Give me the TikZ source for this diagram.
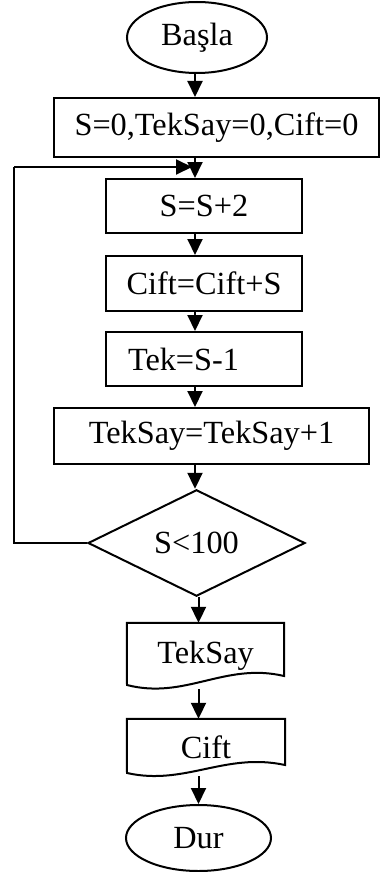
\documentclass[tikz,border=0pt]{standalone}
\usepackage{fontspec}
\setmainfont{Liberation Serif}
\usetikzlibrary{shapes.geometric,arrows.meta,calc}
\tikzset{
  base/.style={draw, line width=2pt, inner sep=0pt, font=\fontsize{32.3}{38}\selectfont},
  procbox/.style={base, rectangle},
  term/.style={base, ellipse},
  decis/.style={base, diamond},
  docnode/.style={rectangle, inner sep=0pt, font=\fontsize{32.3}{38}\selectfont},
  docline/.style={line width=2pt, line join=miter},
  conn/.style={line width=2pt, -{Triangle[length=16pt,width=15pt]}},
  plain/.style={line width=2pt}
}
\begin{document}
\begin{tikzpicture}[x=1pt,y=-1pt]
\useasboundingbox (0,0) rectangle (381,872);
% columns
\coordinate (colx) at (195,0);
\coordinate (coly) at (198.5,0);
% nodes
\node[term, minimum width=140pt, minimum height=71pt] (start) at (197,37.5) {Başla};
\node[procbox, minimum width=325pt, minimum height=59pt] (init) at (216.5,127.5) {S=0,TekSay=0,Cift=0};
\node[procbox, minimum width=196pt, minimum height=54pt] (s2) at (204,206) {S=S+2};
\node[procbox, minimum width=196pt, minimum height=55pt] (cift) at (204,283.5) {Cift=Cift+S};
\node[procbox, minimum width=196pt, minimum height=54pt, text width=152pt, align=left, inner xsep=22pt] (tek) at (204,359) {Tek=S-1};
\node[procbox, minimum width=315pt, minimum height=56pt] (tsum) at (211.5,436) {TekSay=TekSay+1};
\node[decis, minimum width=217pt, minimum height=100pt] (dec) at (196.5,543) {S<100};
\node[docnode, minimum width=157pt, minimum height=66pt] (out1) at (205.5,656) {TekSay};
\node[docnode, minimum width=158pt, minimum height=57pt] (out2) at (206,747.5) {Cift};
\node[term, minimum width=145pt, minimum height=66pt] (stop) at (198.5,838) {Dur};
% document shapes
\draw[docline] (out1.north west) -- (127,685) .. controls (185,700) and (225,662) .. (284,676) -- (out1.north east) -- cycle;
\draw[docline] (out2.north west) -- (127,773) .. controls (185,786) and (225,752) .. (285,765) -- (out2.north east) -- cycle;
% loop
\coordinate (lb) at (14,167);
\coordinate (le) at (192,167);
\draw[plain] (dec.west) -- (dec.west -| lb) -- (lb);
\draw[conn] (lb) -- (le);
% connectors
\draw[conn] (start.south -| colx) -- (init.north -| colx);
\draw[conn] (init.south -| colx) -- (s2.north -| colx);
\draw[conn] (s2.south -| colx) -- (cift.north -| colx);
\draw[conn] (cift.south -| colx) -- (tek.north -| colx);
\draw[conn] (tek.south -| colx) -- (tsum.north -| colx);
\draw[conn] (tsum.south -| colx) -- (dec.north -| colx);
\draw[conn] (dec.south -| coly) -- (out1.north -| coly);
\draw[conn] (out1.south -| coly) -- (out2.north -| coly);
\draw[conn] (out2.south -| coly) -- (stop.north -| coly);
\end{tikzpicture}
\end{document}
